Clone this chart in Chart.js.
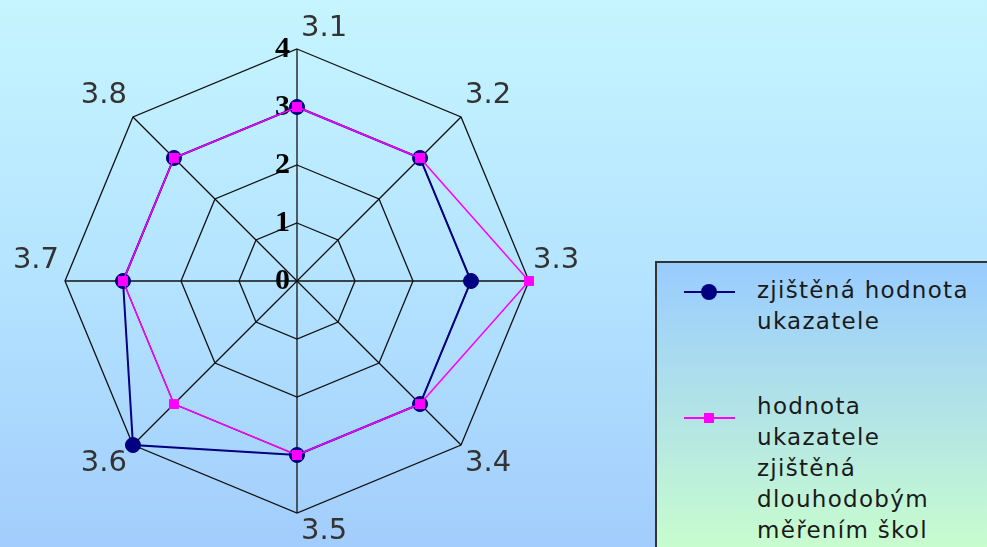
<!DOCTYPE html>
<html>
<head>
<meta charset="utf-8">
<script src="https://cdn.jsdelivr.net/npm/chart.js@4/dist/chart.umd.min.js"></script>
<style>
  html, body { margin: 0; padding: 0; }
  body {
    width: 987px; height: 547px; overflow: hidden; position: relative;
    background: linear-gradient(to bottom, #c6f5ff 0%, #b4e4ff 50%, #a2cdfc 100%);
    font-family: "DejaVu Sans", Verdana, sans-serif;
  }
  #wrap { position: absolute; left: 0; top: 0; width: 987px; height: 547px; }
  #legend {
    position: absolute; left: 655px; top: 261px; width: 340px; height: 300px;
    border: 2px solid #333; box-sizing: border-box;
    background: linear-gradient(to bottom, #99ccff 0%, #b4e6e4 55%, #caffcc 100%);
  }
  .item { position: absolute; left: 100px; font-size: 23px; letter-spacing: 1.3px; line-height: 31px; color: #1a1a1a; }
  .mk { position: absolute; left: 27px; width: 51px; }
  .mk .ln { position: absolute; left: 0; width: 51px; top: -1px; }
  .mk .dot { position: absolute; }
</style>
</head>
<body>
<div id="wrap"><canvas id="myRadar" width="987" height="547"></canvas></div>
<div id="legend"></div>
<script>
// data
var axisLabels = ['3.1', '3.2', '3.3', '3.4', '3.5', '3.6', '3.7', '3.8'];
var tickValues = [0, 1, 2, 3, 4];
var zjistena = [3, 3, 3, 3, 3, 4, 3, 3];
var dlouhodoba = [3, 3, 4, 3, 3, 3, 3, 3];
var seriesNames = [
    ['zjištěná hodnota', 'ukazatele'],
    ['hodnota', 'ukazatele', 'zjištěná', 'dlouhodobým', 'měřením škol']
];

// popisky stupnice a os kreslime sami (jsou posunute jako v Excelu)
var labelsPlugin = {
    id: 'labelsPlugin',
    beforeDatasetsDraw: function (chart) {
        var s = chart.scales.r, ctx = chart.ctx;
        ctx.save();
        ctx.font = '600 30px "Liberation Serif"';
        ctx.fillStyle = '#000';
        ctx.textAlign = 'right';
        ctx.textBaseline = 'middle';
        tickValues.forEach(function (v) {
            var p = s.getPointPositionForValue(0, v);
            ctx.fillText(String(v), p.x - 7, p.y);
        });
        ctx.restore();
    },
    afterDraw: function (chart) {
        var s = chart.scales.r, ctx = chart.ctx;
        ctx.save();
        ctx.font = '29px "DejaVu Sans"';
        ctx.fillStyle = '#333';
        ctx.textBaseline = 'middle';
        axisLabels.forEach(function (lab, i) {
            var p = s.getPointPosition(i, s.drawingArea);
            var left = p.x < s.xCenter - 1;
            var below = p.y > s.yCenter + 1;
            ctx.textAlign = left ? 'right' : 'left';
            ctx.fillText(lab, p.x + (left ? -6 : 4), p.y + (below ? 18 : -21));
        });
        ctx.restore();
    }
};

var ctx = document.getElementById('myRadar').getContext('2d');
var myRadar = new Chart(ctx, {
    type: 'radar',
    data: {
        labels: axisLabels,
        datasets: [{
            label: seriesNames[1].join(' '),
            data: dlouhodoba,
            borderColor: '#ff00ff',
            borderWidth: 1.5,
            fill: false,
            pointStyle: 'rect',
            pointRadius: 7,
            pointBackgroundColor: '#ff00ff',
            pointBorderColor: '#ff00ff',
            pointBorderWidth: 0
        }, {
            label: seriesNames[0].join(' '),
            data: zjistena,
            borderColor: '#000080',
            borderWidth: 2,
            fill: false,
            pointStyle: 'circle',
            pointRadius: 7.5,
            pointBackgroundColor: '#000080',
            pointBorderColor: '#000080',
            pointBorderWidth: 1
        }]
    },
    options: {
        responsive: false,
        animation: false,
        layout: { padding: { top: 49, left: 65, bottom: 34, right: 458 } },
        plugins: { legend: { display: false }, tooltip: { enabled: false } },
        elements: { line: { tension: 0 } },
        scales: {
            r: {
                min: 0,
                max: 4,
                ticks: { stepSize: 1, display: false },
                grid: { color: '#111', lineWidth: 1.3, circular: false },
                angleLines: { color: '#111', lineWidth: 1.3 },
                pointLabels: { display: false }
            }
        }
    },
    plugins: [labelsPlugin]
});

// legenda
var legend = document.getElementById('legend');
var items = [
    { lines: seriesNames[0], top: 12, mkTop: 29, color: '#000080', shape: 'circle' },
    { lines: seriesNames[1], top: 128, mkTop: 155, color: '#ff00ff', shape: 'rect' }
];
items.forEach(function (it) {
    var t = document.createElement('div');
    t.className = 'item';
    t.style.top = it.top + 'px';
    t.innerHTML = it.lines.join('<br>');
    legend.appendChild(t);
    var m = document.createElement('div');
    m.className = 'mk';
    m.style.top = it.mkTop + 'px';
    var ln = document.createElement('div');
    ln.className = 'ln';
    ln.style.borderTop = '2px solid ' + it.color;
    m.appendChild(ln);
    var d = document.createElement('div');
    d.className = 'dot';
    d.style.background = it.color;
    if (it.shape === 'circle') {
        d.style.width = '16px'; d.style.height = '16px'; d.style.borderRadius = '50%';
        d.style.left = '17px'; d.style.top = '-8px';
    } else {
        d.style.width = '10px'; d.style.height = '10px';
        d.style.left = '20px'; d.style.top = '-5px';
    }
    m.appendChild(d);
    legend.appendChild(m);
});
</script>
</body>
</html>
